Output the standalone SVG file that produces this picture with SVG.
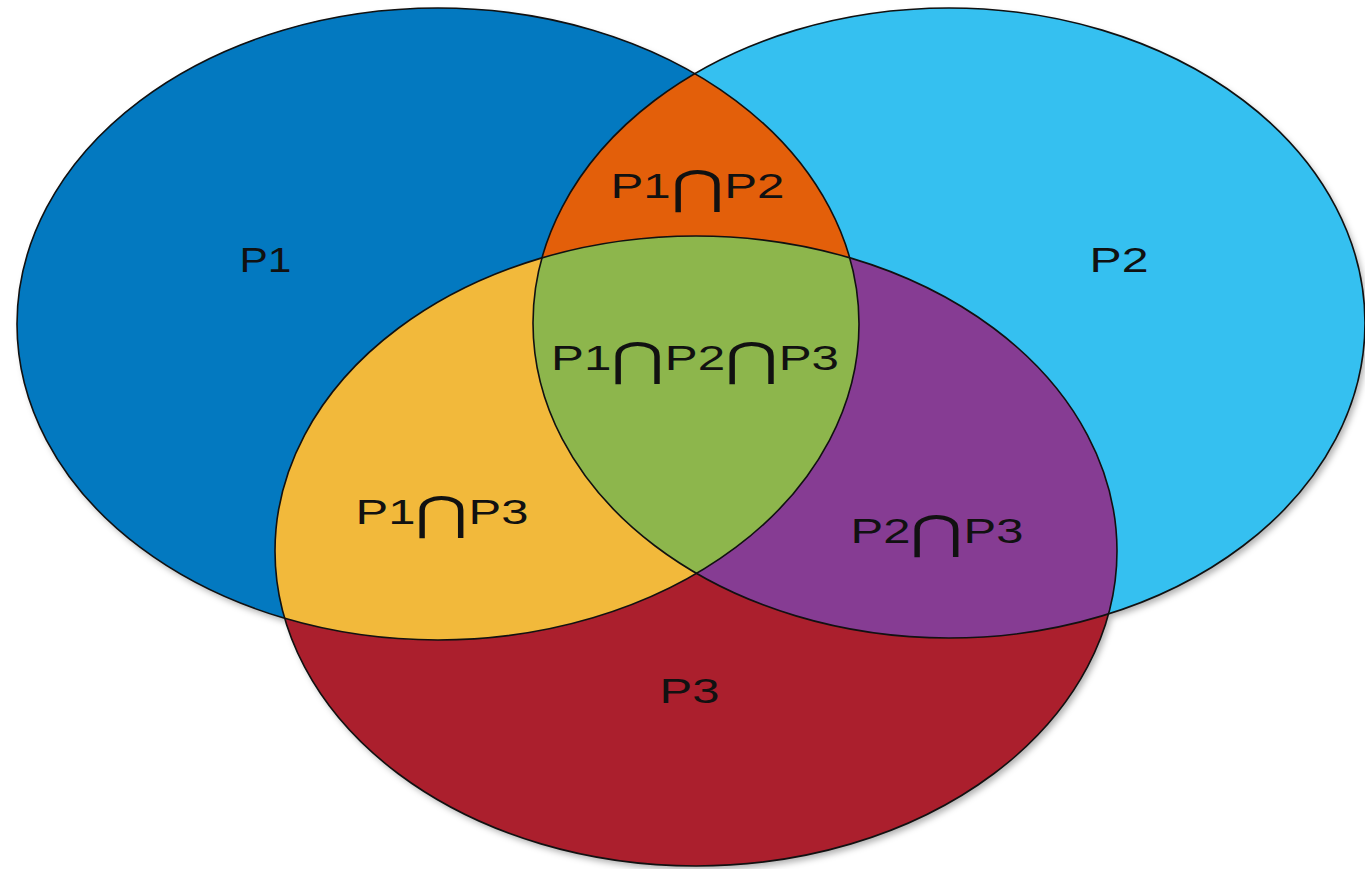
<svg xmlns="http://www.w3.org/2000/svg" width="1365" height="869" viewBox="0 0 1365 869">
  <style>
    .lbl { font-family: "Liberation Sans", Arial, sans-serif; font-size: 35px; fill: #111; text-anchor: middle; }
    .cap { font-family: "DejaVu Sans", sans-serif; font-size: 46px; font-weight: 200; }
    .edge { fill: none; stroke: #111; stroke-width: 1.6; }
  </style>
  <defs>
    <ellipse id="e1" cx="438" cy="324" rx="421" ry="316"/>
    <ellipse id="e2" cx="949" cy="323" rx="416" ry="315"/>
    <ellipse id="e3" cx="696" cy="551" rx="421" ry="315"/>
    <clipPath id="c1"><use href="#e1"/></clipPath>
    <clipPath id="c2"><use href="#e2"/></clipPath>
    <clipPath id="c3"><use href="#e3"/></clipPath>
    <filter id="sh" x="-10%" y="-10%" width="120%" height="120%">
      <feDropShadow dx="3" dy="4" stdDeviation="3" flood-color="#000" flood-opacity="0.3"/>
    </filter>
  </defs>
  <rect width="1365" height="869" fill="#fff"/>

  <g id="shadows" filter="url(#sh)">
    <use href="#e1" fill="#0379c0"/>
    <use href="#e2" fill="#35c0f0"/>
    <use href="#e3" fill="#ab1f2d"/>
  </g>

  <g id="P1">
    <use href="#e1" fill="#0379c0"/>
  </g>
  <g id="P2">
    <use href="#e2" fill="#35c0f0"/>
  </g>
  <g id="P3">
    <use href="#e3" fill="#ab1f2d"/>
  </g>
  <g id="P1nP2">
    <use href="#e2" fill="#e35f0a" clip-path="url(#c1)"/>
  </g>
  <g id="P1nP3">
    <use href="#e3" fill="#f2b93b" clip-path="url(#c1)"/>
  </g>
  <g id="P2nP3">
    <use href="#e3" fill="#863c93" clip-path="url(#c2)"/>
  </g>
  <g id="P1nP2nP3">
    <g clip-path="url(#c1)">
      <use href="#e3" fill="#8db64c" clip-path="url(#c2)"/>
    </g>
  </g>

  <g id="outlines">
    <use href="#e1" class="edge"/>
    <use href="#e2" class="edge"/>
    <use href="#e3" class="edge"/>
  </g>

  <g id="labels">
    <text class="lbl" x="265.5" y="272" textLength="52" lengthAdjust="spacingAndGlyphs">P1</text>
    <text class="lbl" x="1119" y="272" textLength="59" lengthAdjust="spacingAndGlyphs">P2</text>
    <text class="lbl" x="689.5" y="703" textLength="60" lengthAdjust="spacingAndGlyphs">P3</text>
    <text class="lbl" x="697.5" y="198" textLength="174" lengthAdjust="spacingAndGlyphs">P1<tspan class="cap" dy="5">⋂</tspan><tspan dy="-5">P2</tspan></text>
    <text class="lbl" x="695" y="370" textLength="288" lengthAdjust="spacingAndGlyphs">P1<tspan class="cap" dy="5">⋂</tspan><tspan dy="-5">P2</tspan><tspan class="cap" dy="5">⋂</tspan><tspan dy="-5">P3</tspan></text>
    <text class="lbl" x="442" y="524" textLength="173" lengthAdjust="spacingAndGlyphs">P1<tspan class="cap" dy="5">⋂</tspan><tspan dy="-5">P3</tspan></text>
    <text class="lbl" x="937" y="543" textLength="173" lengthAdjust="spacingAndGlyphs">P2<tspan class="cap" dy="5">⋂</tspan><tspan dy="-5">P3</tspan></text>
  </g>
</svg>
